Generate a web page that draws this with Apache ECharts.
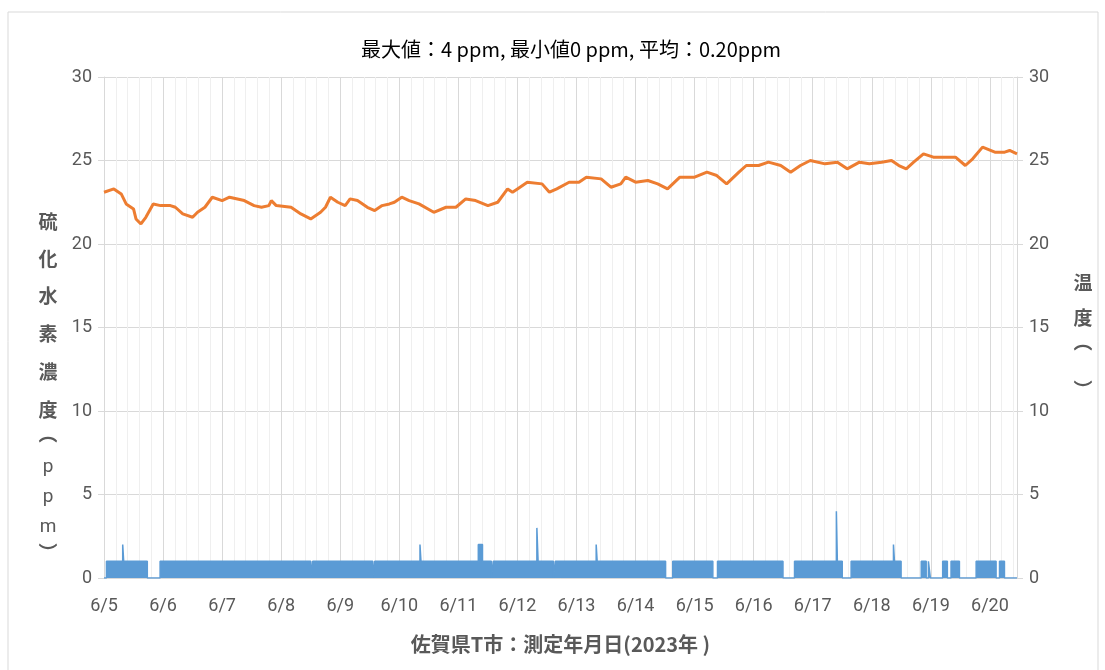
<!DOCTYPE html>
<html>
<head>
<meta charset="utf-8">
<script src="https://cdn.jsdelivr.net/npm/echarts@6/dist/echarts.min.js"></script>
<style>
  html, body { margin: 0; padding: 0; background: #fff; }
  #main { width: 1105px; height: 670px; }
</style>
</head>
<body>
<div id="main"></div>
<script>
// 6/5 0時からの経過時間(h)
const tempHours = [0,4,7,9,12,13,15,17,20,23,27,29,32,36,38,41,44,48,51,57,61,64,67,68,70,76,80,84,88,90,92,95,98,100,103,107,110,113,116,118,121,124,128,134,139,143,147,151,156,160,164,166,168,172,178,181,184,189,193,196,202,206,210,212,216,221,225,229,234,240,245,249,253,258,261,266,270,275,279,283,287,293,298,302,307,311,316,320,323,326,329,333,337,342,346,350,353,357,362,366,368,371];
// 温度(℃)
const tempC = [23.1,23.3,23.0,22.4,22.1,21.5,21.2,21.6,22.4,22.3,22.3,22.2,21.8,21.6,21.9,22.2,22.8,22.6,22.8,22.6,22.3,22.2,22.3,22.6,22.3,22.2,21.8,21.5,21.9,22.2,22.8,22.5,22.3,22.7,22.6,22.2,22.0,22.3,22.4,22.5,22.8,22.6,22.4,21.9,22.2,22.2,22.7,22.6,22.3,22.5,23.3,23.1,23.3,23.7,23.6,23.1,23.3,23.7,23.7,24.0,23.9,23.4,23.6,24.0,23.7,23.8,23.6,23.3,24.0,24.0,24.3,24.1,23.6,24.3,24.7,24.7,24.9,24.7,24.3,24.7,25.0,24.8,24.9,24.5,24.9,24.8,24.9,25.0,24.7,24.5,24.9,25.4,25.2,25.2,25.2,24.7,25.1,25.8,25.5,25.5,25.6,25.4];
// 硫化水素濃度: 値が変わる時刻(h)と、その時刻からの値(ppm)
const h2sHours = [0,1,7.6,8,17.6,22.8,84,84.8,109.2,110,128.4,128.8,152.1,153.8,157.4,158.2,175.9,176.4,182.6,183.4,200,200.4,228.2,231.1,247.4,249.3,275.9,280.6,297.6,298,300,303.6,320.8,321.2,323.9,332.1,334.1,335,335.8,340.8,342.7,344.2,347.6,354.4,362.5,363.9,365.9,371];
const h2sPpm = [0,1,2,1,0,1,0,1,0,1,2,1,2,1,0,1,3,1,0,1,2,1,0,1,0,1,0,1,4,1,0,1,2,1,0,1,0,1,0,1,0,1,0,1,0,1,0,0];
const dayLabels = ['6/5','6/6','6/7','6/8','6/9','6/10','6/11','6/12','6/13','6/14','6/15','6/16','6/17','6/18','6/19','6/20'];

const grey = '#595959';
const latinFont = 'Roboto, "Noto Sans CJK JP", sans-serif';
const cjkFont = '"Noto Sans CJK JP", sans-serif';

const chart = echarts.init(document.getElementById('main'));

// 縦書きの軸タイトル
const leftName = [
  ['硫', 222, true], ['化', 259, true], ['水', 296, true], ['素', 334, true],
  ['濃', 372, true], ['度', 410, true], ['︵', 434, true],
  ['p', 467, false], ['p', 497, false], ['m', 527, false], ['︶', 553, true]
];
const rightName = [['温', 283, true], ['度', 318, true], ['︵', 342, true], ['︶', 390, true]];
function nameText(list, x) {
  return list.map(function (c) {
    return {
      type: 'text', x: x, y: c[1],
      style: {
        text: c[0], align: 'center', verticalAlign: 'middle',
        fill: grey, fontSize: 19, fontWeight: c[2] ? 'bold' : 'normal',
        fontFamily: c[2] ? cjkFont : latinFont
      }
    };
  });
}

chart.setOption({
  animation: false,
  backgroundColor: '#fff',
  title: {
    text: '最大値：4 ppm, 最小値0 ppm, 平均：0.20ppm',
    left: 356, top: 34,
    textStyle: { fontSize: 20, fontWeight: 'normal', color: '#000', fontFamily: cjkFont }
  },
  graphic: [
    { type: 'rect', shape: { x: 8, y: 12, width: 1090, height: 700 },
      style: { fill: 'none', stroke: '#d9d9d9', lineWidth: 1 }, silent: true }
  ].concat(nameText(leftName, 48), nameText(rightName, 1083)),
  grid: { left: 104, right: 88, top: 77, bottom: 92 },
  xAxis: {
    type: 'value', min: 0, max: 371, interval: 24,
    name: '佐賀県T市：測定年月日(2023年 )',
    nameLocation: 'middle', nameGap: 56,
    nameTextStyle: { color: grey, fontSize: 20, fontWeight: 'bold', fontFamily: cjkFont },
    axisLine: { lineStyle: { color: '#d9d9d9' } },
    axisTick: { show: false },
    minorTick: { show: false, splitNumber: 5 },
    axisLabel: {
      color: grey, fontSize: 18, fontFamily: latinFont, margin: 20,
      formatter: function (v) { return dayLabels[Math.round(v / 24)] || ''; }
    },
    splitLine: { show: true, lineStyle: { color: '#d9d9d9', width: 1 } },
    minorSplitLine: { show: true, lineStyle: { color: '#efefef', width: 1 } }
  },
  yAxis: [
    {
      type: 'value', min: 0, max: 30, interval: 5, position: 'left',
      axisLine: { show: true, lineStyle: { color: '#d9d9d9' } },
      axisTick: { show: true, length: 6, lineStyle: { color: '#d9d9d9' } },
      axisLabel: { color: grey, fontSize: 18, fontFamily: latinFont, margin: 12 },
      splitLine: { lineStyle: { color: '#d9d9d9' } }
    },
    {
      type: 'value', min: 0, max: 30, interval: 5, position: 'right',
      axisLine: { show: true, lineStyle: { color: '#d9d9d9' } },
      axisTick: { show: true, length: 6, lineStyle: { color: '#d9d9d9' } },
      axisLabel: { color: grey, fontSize: 18, fontFamily: latinFont, margin: 12 },
      splitLine: { show: false }
    }
  ],
  series: [
    {
      name: '硫化水素濃度',
      type: 'line', yAxisIndex: 0, step: 'end',
      showSymbol: false,
      data: h2sHours.map(function (h, i) { return [h, h2sPpm[i]]; }),
      lineStyle: { color: '#5b9bd5', width: 1.5 },
      itemStyle: { color: '#5b9bd5' },
      areaStyle: { color: '#5b9bd5', opacity: 1 }
    },
    {
      name: '温度',
      type: 'line', yAxisIndex: 1,
      showSymbol: false,
      data: tempHours.map(function (h, i) { return [h, tempC[i]]; }),
      lineStyle: { color: '#ed7d31', width: 3 },
      itemStyle: { color: '#ed7d31' }
    }
  ]
});
</script>
</body>
</html>
